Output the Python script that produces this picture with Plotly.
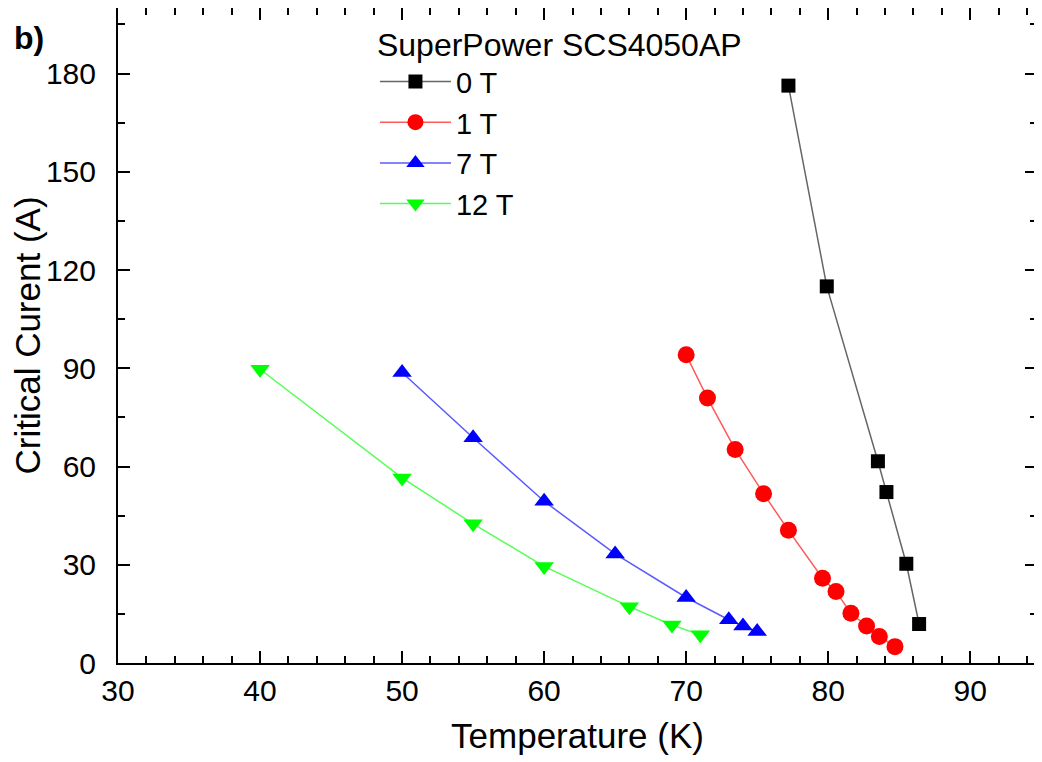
import plotly.graph_objects as go

# Critical current vs temperature, SuperPower SCS4050AP tape
t_0T = [77.2, 79.9, 83.5, 84.1, 85.5, 86.4]
ic_0T = [176.3, 115.0, 61.6, 52.2, 30.3, 11.9]

t_1T = [70.0, 71.5, 73.45, 75.45, 77.2, 79.6, 80.55, 81.6, 82.7, 83.6, 84.7]
ic_1T = [94.1, 80.9, 65.2, 51.7, 40.5, 25.9, 21.8, 15.2, 11.3, 8.1, 5.0]

t_7T = [50.0, 55.0, 60.0, 65.0, 70.0, 73.0, 74.0, 75.0]
ic_7T = [88.7, 68.8, 49.4, 33.3, 20.0, 13.2, 11.3, 9.6]

t_12T = [40.0, 50.0, 55.0, 60.0, 66.0, 69.0, 71.0]
ic_12T = [89.7, 56.5, 42.5, 29.5, 17.2, 11.6, 8.6]

FONT = "Liberation Sans, Arial, sans-serif"

series = [
    ("0 T", t_0T, ic_0T, "#000000", "#666666", "square", 14),
    ("1 T", t_1T, ic_1T, "#ff0000", "#ff5a5a", "circle", 17),
    ("7 T", t_7T, ic_7T, "#0000ff", "#5a5aff", "triangle-up", 17),
    ("12 T", t_12T, ic_12T, "#00ff00", "#55ff55", "triangle-down", 17),
]

fig = go.Figure()
for name, x, y, mcol, lcol, sym, size in series:
    fig.add_trace(go.Scatter(
        x=x, y=y, name=name, mode="lines+markers",
        line=dict(color=lcol, width=1.5),
        marker=dict(color=mcol, symbol=sym, size=size, line=dict(width=0)),
    ))

axis_common = dict(
    showline=True, linecolor="black", linewidth=2, mirror="allticks",
    ticks="inside", ticklen=12, tickwidth=2, tickcolor="black",
    showgrid=False, zeroline=False, automargin=False,
    tickfont=dict(family=FONT, size=30, color="black"),
    minor=dict(ticks="inside", ticklen=7, tickwidth=2, tickcolor="black"),
)

# page body has an 8px margin, so the figure is sized 8px smaller
W, H = 1034, 754
L, R, T, B = 110, 5, 0, 99
pw, ph = W - L - R, H - T - B

fig.update_layout(
    width=W, height=H,
    margin=dict(l=L, r=R, t=T, b=B, autoexpand=False),
    plot_bgcolor="white", paper_bgcolor="white",
    font=dict(family=FONT, color="black"),
    xaxis=dict(axis_common, range=[30, 94.7], dtick=10, tick0=30,
               ticklabelstandoff=0,
               minor=dict(axis_common["minor"], dtick=2),
               title=dict(text="Temperature (K)", font=dict(family=FONT, size=35), standoff=17)),
    yaxis=dict(axis_common, range=[0, 200], dtick=30, tick0=0,
               ticklabelstandoff=14,
               minor=dict(axis_common["minor"], dtick=15),
               title=dict(text="Critical Curent (A)", font=dict(family=FONT, size=35), standoff=0)),
    legend=dict(
        x=0.2796, y=0.99, xanchor="left", yanchor="top",
        bgcolor="rgba(0,0,0,0)", borderwidth=0,
        font=dict(family=FONT, size=29, color="black"),
        title=dict(text="SuperPower SCS4050AP", font=dict(family=FONT, size=32)),
        itemwidth=71, tracegroupgap=0,
    ),
    annotations=[dict(
        text="<b>b)</b>", xref="paper", yref="paper",
        x=(4 - L) / pw, y=(ph - 30) / ph,
        xanchor="left", yanchor="middle", showarrow=False,
        font=dict(family=FONT, size=32, color="black"),
    )],
)

fig.write_html("out.html")
